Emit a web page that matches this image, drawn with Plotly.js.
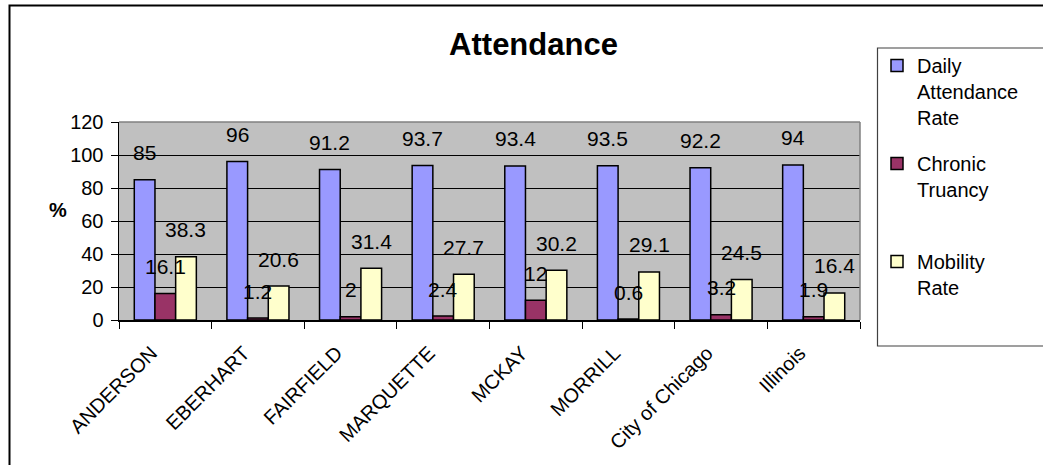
<!DOCTYPE html>
<html>
<head>
<meta charset="utf-8">
<script src="https://cdn.plot.ly/plotly-3.0.1.min.js"></script>
<style>html,body{margin:0;padding:0;background:#fff;}#chart{width:1043px;height:465px;}</style>
</head>
<body>
<div id="chart"></div>
<script>
const categories = ["ANDERSON", "EBERHART", "FAIRFIELD", "MARQUETTE", "MCKAY", "MORRILL", "City of Chicago", "Illinois"];
const dailyAttendance = [85, 96, 91.2, 93.7, 93.4, 93.5, 92.2, 94];
const chronicTruancy = [16.1, 1.2, 2, 2.4, 12, 0.6, 3.2, 1.9];
const mobilityRate = [38.3, 20.6, 31.4, 27.7, 30.2, 29.1, 24.5, 16.4];
const seriesNames = ["Daily<br>Attendance<br>Rate", "Chronic<br>Truancy<br>&nbsp;", "Mobility<br>Rate"];
const seriesColors = ["#9999FF", "#993366", "#FFFFCC"];
const yTicks = [0, 20, 40, 60, 80, 100, 120];

const FONT = "Liberation Sans, Arial, sans-serif";
const W = 1043, H = 465;
const M = {l: 119, r: 183, t: 122, b: 145};
const plotW = W - M.l - M.r, plotH = H - M.t - M.b;
const bargap = 0.33;
const px = (p) => (p - M.l) / plotW;
const py = (p) => (M.t + plotH - p) / plotH;

const series = [dailyAttendance, chronicTruancy, mobilityRate];
const traces = series.map((vals, i) => ({
  type: "bar",
  name: seriesNames[i],
  x: categories,
  y: vals,
  legendgroup: "g" + i,
  marker: {color: seriesColors[i], line: {color: "#000000", width: 1.5}},
  hoverinfo: "x+y"
}));

// data labels, placed above each bar (Excel style offset)
const barPx = plotW / categories.length * (1 - bargap) / series.length;
const annotations = [];
series.forEach((vals, i) => {
  vals.forEach((v, j) => {
    annotations.push({
      x: categories[j], y: v, xref: "x", yref: "y",
      xshift: (i - 1) * barPx, yshift: 27,
      text: String(v), showarrow: false,
      xanchor: "center", yanchor: "middle",
      font: {family: FONT, size: 21, color: "#000"}
    });
  });
});
annotations.push({
  x: px(58), y: py(210), xref: "paper", yref: "paper",
  text: "<b>%</b>", showarrow: false, xanchor: "center", yanchor: "middle",
  font: {family: FONT, size: 20, color: "#000"}
});

const layout = {
  width: W, height: H,
  margin: M,
  paper_bgcolor: "#ffffff",
  plot_bgcolor: "#C0C0C0",
  font: {family: FONT, size: 20, color: "#000"},
  title: {
    text: "<b>Attendance</b>",
    font: {family: FONT, size: 31, color: "#000"},
    xref: "paper", x: px(533.5), xanchor: "center",
    yref: "container", y: 1 - 44 / H, yanchor: "middle"
  },
  barmode: "group",
  bargap: bargap,
  bargroupgap: 0,
  showlegend: true,
  legend: {
    x: px(877), y: py(46), xanchor: "left", yanchor: "top",
    bgcolor: "rgba(0,0,0,0)", borderwidth: 0,
    font: {family: FONT, size: 20, color: "#000"},
    valign: "top", traceorder: "grouped", tracegroupgap: 17,
    maxheight: 420
  },
  xaxis: {
    type: "category",
    tickangle: -45,
    tickfont: {family: FONT, size: 20, color: "#000"},
    ticks: "outside", ticklen: 7, tickcolor: "#000", tickwidth: 1,
    tickson: "boundaries",
    ticklabelstandoff: 12, ticklabelshift: -14,
    showline: true, linecolor: "#000", linewidth: 1.5,
    showgrid: false, zeroline: false, fixedrange: true
  },
  yaxis: {
    range: [0, 120],
    tickvals: yTicks,
    ticktext: yTicks.map(String),
    tickfont: {family: FONT, size: 20, color: "#000"},
    ticks: "outside", ticklen: 7, tickcolor: "#000", tickwidth: 1,
    ticklabelstandoff: 3,
    showline: true, linecolor: "#000", linewidth: 1.5,
    showgrid: true, gridcolor: "#000", gridwidth: 1,
    zeroline: false, fixedrange: true
  },
  annotations: annotations,
  shapes: [
    {type: "line", xref: "paper", yref: "paper", x0: 0, x1: 1, y0: 1, y1: 1, line: {color: "#808080", width: 1.5}},
    {type: "line", xref: "paper", yref: "paper", x0: 1, x1: 1, y0: 0, y1: 1, line: {color: "#808080", width: 1.5}},
    {type: "rect", xref: "paper", yref: "paper", x0: px(877.5), x1: px(1060), y0: py(346), y1: py(48), line: {color: "#404040", width: 1.2}},
    {type: "rect", xref: "paper", yref: "paper", x0: px(9.5), x1: px(1070), y0: py(490), y1: py(5.5), line: {color: "#000", width: 2}}
  ]
};

Plotly.newPlot("chart", traces, layout, {displayModeBar: false, staticPlot: true});
</script>
</body>
</html>
